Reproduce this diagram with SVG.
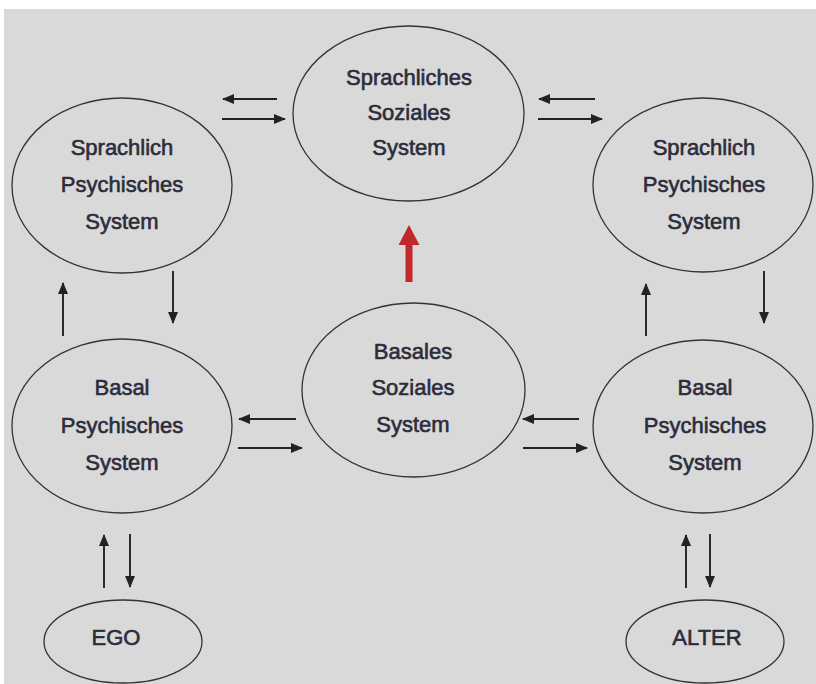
<svg xmlns="http://www.w3.org/2000/svg" width="816" height="684" viewBox="0 0 816 684">
  <defs>
    <marker id="ah" viewBox="0 0 12 10" refX="11" refY="5" markerWidth="12" markerHeight="10" markerUnits="userSpaceOnUse" orient="auto">
      <path d="M0,0 L12,5 L0,10 z" fill="#222"/>
    </marker>
    <style>
      .node ellipse { fill: none; stroke: #333; stroke-width: 1.3; }
      .node text { font-family: "Liberation Sans", Arial, sans-serif; font-size: 22px; fill: #2c2c3a; stroke: #2c2c3a; stroke-width: 0.6; text-anchor: middle; }
      .conn line { stroke: #222; stroke-width: 1.9; marker-end: url(#ah); }
    </style>
  </defs>
  <rect x="0" y="0" width="816" height="684" fill="#ffffff"/>
  <rect x="4" y="9" width="812" height="675" fill="#d9d9d9"/>

  <g id="sprachliches-soziales" class="node">
    <ellipse cx="408.5" cy="113.5" rx="115.5" ry="87.5"/>
    <text x="409" y="85">Sprachliches</text>
    <text x="409" y="120">Soziales</text>
    <text x="409" y="155">System</text>
  </g>
  <g id="sprachlich-psychisch-ego" class="node">
    <ellipse cx="122" cy="185.5" rx="110" ry="87.5"/>
    <text x="122" y="155">Sprachlich</text>
    <text x="122" y="192">Psychisches</text>
    <text x="122" y="229">System</text>
  </g>
  <g id="sprachlich-psychisch-alter" class="node">
    <ellipse cx="703" cy="185" rx="110" ry="87"/>
    <text x="704" y="155">Sprachlich</text>
    <text x="704" y="192">Psychisches</text>
    <text x="704" y="229">System</text>
  </g>
  <g id="basal-psychisch-ego" class="node">
    <ellipse cx="122" cy="426" rx="110" ry="87"/>
    <text x="122" y="395">Basal</text>
    <text x="122" y="433">Psychisches</text>
    <text x="122" y="470">System</text>
  </g>
  <g id="basales-soziales" class="node">
    <ellipse cx="413.5" cy="390" rx="111.5" ry="87"/>
    <text x="413" y="359">Basales</text>
    <text x="413" y="395">Soziales</text>
    <text x="413" y="432">System</text>
  </g>
  <g id="basal-psychisch-alter" class="node">
    <ellipse cx="703" cy="426.5" rx="110" ry="86.5"/>
    <text x="705" y="395">Basal</text>
    <text x="705" y="433">Psychisches</text>
    <text x="705" y="470">System</text>
  </g>
  <g id="ego" class="node">
    <ellipse cx="123" cy="641.5" rx="79" ry="41.5"/>
    <text x="116" y="645">EGO</text>
  </g>
  <g id="alter" class="node">
    <ellipse cx="705" cy="641.5" rx="79" ry="41.5"/>
    <text x="707" y="645">ALTER</text>
  </g>

  <g id="connectors" class="conn">
    <line x1="277" y1="99" x2="223" y2="99"/>
    <line x1="222" y1="119" x2="285" y2="119"/>
    <line x1="595" y1="99" x2="539" y2="99"/>
    <line x1="538" y1="119" x2="602" y2="119"/>
    <line x1="63" y1="336" x2="63" y2="283"/>
    <line x1="173" y1="271" x2="173" y2="323"/>
    <line x1="646" y1="336" x2="646" y2="284"/>
    <line x1="764" y1="271" x2="764" y2="323"/>
    <line x1="296" y1="419" x2="239" y2="419"/>
    <line x1="238" y1="448" x2="302" y2="448"/>
    <line x1="579" y1="419" x2="523" y2="419"/>
    <line x1="523" y1="448" x2="587" y2="448"/>
    <line x1="104" y1="588" x2="104" y2="535"/>
    <line x1="130" y1="534" x2="130" y2="587"/>
    <line x1="686" y1="588" x2="686" y2="535"/>
    <line x1="710" y1="534" x2="710" y2="587"/>
    <path d="M405.5,282 L405.5,245 L398.5,245 L409,225 L419.5,245 L412.5,245 L412.5,282 z" fill="#c0282a" stroke="none"/>
  </g>
</svg>
